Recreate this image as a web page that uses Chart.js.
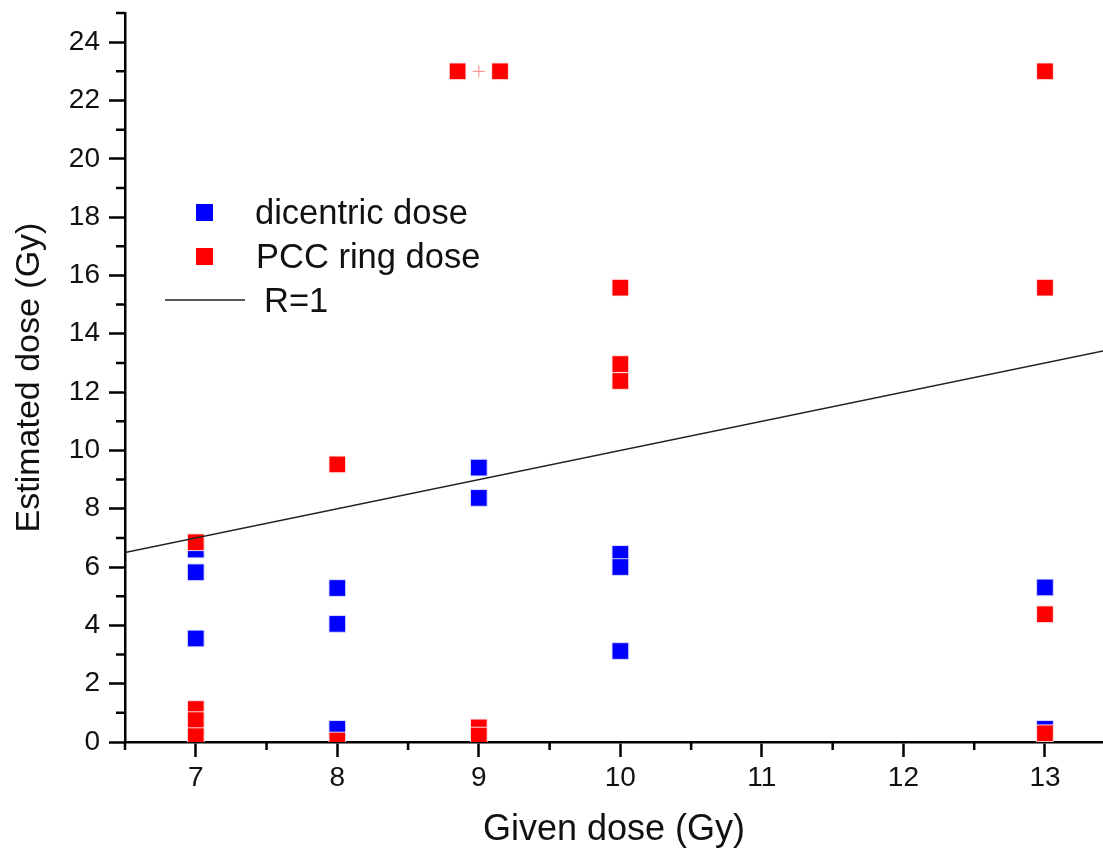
<!DOCTYPE html>
<html>
<head>
<meta charset="utf-8">
<script src="https://cdn.jsdelivr.net/npm/chart.js@4"></script>
<style>
  html, body { margin: 0; padding: 0; background: #fff; }
  #wrap { width: 1103px; height: 856px; }
</style>
</head>
<body>
<div id="wrap"><canvas id="doseChart" width="1103" height="856"></canvas></div>
<script>
// dicentric dose (blue)
const dicX = [7, 7, 7, 8, 8, 8, 9, 9, 10, 10, 10, 13, 13];
const dicY = [6.6, 5.82, 3.55, 5.28, 4.05, 0.45, 9.41, 8.37, 6.45, 6.0, 3.12, 5.3, 0.45];

// PCC ring dose (red)
const pccX = [7, 7, 7, 7, 8, 8, 8.85, 9.15, 9, 9, 10, 10, 10, 13, 13, 13, 13];
const pccY = [6.85, 1.13, 0.75, 0.2, 9.52, 0.05, 23, 23, 0.5, 0.22, 15.58, 12.96, 12.38, 23, 15.58, 4.38, 0.3];

// small "+" marker at the top of the 9 Gy column
const plusX = [9];
const plusY = [23];

// R=1 reference line
const lineX = [6.5, 13.5];

const xTicks = [7, 8, 9, 10, 11, 12, 13];
const yTicks = [0, 2, 4, 6, 8, 10, 12, 14, 16, 18, 20, 22, 24];

const FONT = '"Liberation Sans", Arial, Helvetica, sans-serif';

function pts(xs, ys) {
    return xs.map((x, i) => ({ x: x, y: ys[i] }));
}

// minor ticks between the labelled ones
const minorTicks = {
    id: "minorTicks",
    afterDraw(chart) {
        const ctx = chart.ctx;
        const xs = chart.scales.x, ys = chart.scales.y;
        const area = chart.chartArea;
        ctx.save();
        ctx.strokeStyle = "#000";
        ctx.lineWidth = 2.5;
        ctx.beginPath();
        for (let v = 1; v <= 25; v += 2) {
            const py = ys.getPixelForValue(v);
            ctx.moveTo(area.left, py);
            ctx.lineTo(area.left - 9, py);
        }
        for (let v = 6.5; v <= xs.max; v += 1) {
            const px = xs.getPixelForValue(v);
            ctx.moveTo(px, area.bottom);
            ctx.lineTo(px, area.bottom + 8);
        }
        ctx.stroke();
        ctx.restore();
    }
};

// legend drawn inside the plot, like the original figure
const insideLegend = {
    id: "insideLegend",
    afterDraw(chart) {
        const ctx = chart.ctx;
        const ds = chart.data.datasets;
        ctx.save();
        ctx.font = "34.5px " + FONT;
        ctx.textBaseline = "alphabetic";

        ctx.fillStyle = ds[2].backgroundColor;
        ctx.fillRect(196, 204, 17, 17);
        ctx.fillStyle = "#111";
        ctx.fillText(ds[2].label, 255, 224);

        ctx.fillStyle = ds[1].backgroundColor;
        ctx.fillRect(196, 248, 17, 17);
        ctx.fillStyle = "#111";
        ctx.fillText(ds[1].label, 256, 268);

        ctx.strokeStyle = ds[0].borderColor;
        ctx.lineWidth = 1.5;
        ctx.beginPath();
        ctx.moveTo(165, 300);
        ctx.lineTo(245, 300);
        ctx.stroke();
        ctx.fillText(ds[0].label, 264, 312);
        ctx.restore();
    }
};

new Chart(document.getElementById("doseChart"), {
    type: "scatter",
    data: {
        datasets: [
            {
                label: "R=1",
                type: "line",
                data: pts(lineX, lineX),
                borderColor: "#222",
                borderWidth: 1.5,
                pointRadius: 0,
                fill: false,
                order: 0,
                clip: 0
            },
            {
                label: "PCC ring dose",
                data: pts(pccX, pccY),
                backgroundColor: "#ff0000",
                borderColor: "rgba(255,235,235,0.9)",
                borderWidth: 1,
                pointStyle: "rect",
                pointRadius: 11.8,
                pointHoverRadius: 11.8,
                order: 1,
                clip: 0
            },
            {
                label: "dicentric dose",
                data: pts(dicX, dicY),
                backgroundColor: "#0000ff",
                borderColor: "rgba(225,225,255,0.9)",
                borderWidth: 1,
                pointStyle: "rect",
                pointRadius: 11.8,
                pointHoverRadius: 11.8,
                order: 2,
                clip: 0
            },
            {
                label: "",
                data: pts(plusX, plusY),
                borderColor: "#ff9a9a",
                backgroundColor: "#ff9a9a",
                borderWidth: 1.2,
                pointStyle: "cross",
                pointRadius: 6,
                order: 3
            }
        ]
    },
    options: {
        responsive: false,
        animation: false,
        layout: { autoPadding: false, padding: { top: 13, right: 0, left: 0, bottom: 0 } },
        plugins: {
            legend: { display: false },
            tooltip: { enabled: false }
        },
        scales: {
            x: {
                type: "linear",
                min: 6.5,
                max: 13.41,
                afterFit: (s) => { s.height = 114; s.paddingLeft = 0; s.paddingRight = 0; },
                afterBuildTicks: (s) => { s.ticks = xTicks.map(v => ({ value: v })); },
                ticks: {
                    font: { family: FONT, size: 28 },
                    color: "#111",
                    padding: 4,
                    maxRotation: 0
                },
                grid: {
                    display: true,
                    drawOnChartArea: false,
                    drawTicks: true,
                    tickLength: 15,
                    tickWidth: 2.5,
                    tickColor: "#000"
                },
                border: { display: true, color: "#000", width: 2.5 },
                title: {
                    display: true,
                    text: "Given dose (Gy)",
                    font: { family: FONT, size: 36 },
                    color: "#111",
                    padding: { top: 0, bottom: 4 }
                }
            },
            y: {
                type: "linear",
                min: 0,
                max: 25,
                afterFit: (s) => { s.width = 125; s.paddingTop = 0; s.paddingBottom = 0; },
                afterBuildTicks: (s) => { s.ticks = yTicks.map(v => ({ value: v })); },
                ticks: {
                    font: { family: FONT, size: 28 },
                    color: "#111",
                    padding: 9
                },
                grid: {
                    display: true,
                    drawOnChartArea: false,
                    drawTicks: true,
                    tickLength: 16,
                    tickWidth: 2.5,
                    tickColor: "#000"
                },
                border: { display: true, color: "#000", width: 2.5 },
                title: {
                    display: true,
                    text: "Estimated dose (Gy)",
                    font: { family: FONT, size: 34 },
                    color: "#111",
                    padding: { top: 9, bottom: 0 }
                }
            }
        }
    },
    plugins: [minorTicks, insideLegend]
});
</script>
</body>
</html>
